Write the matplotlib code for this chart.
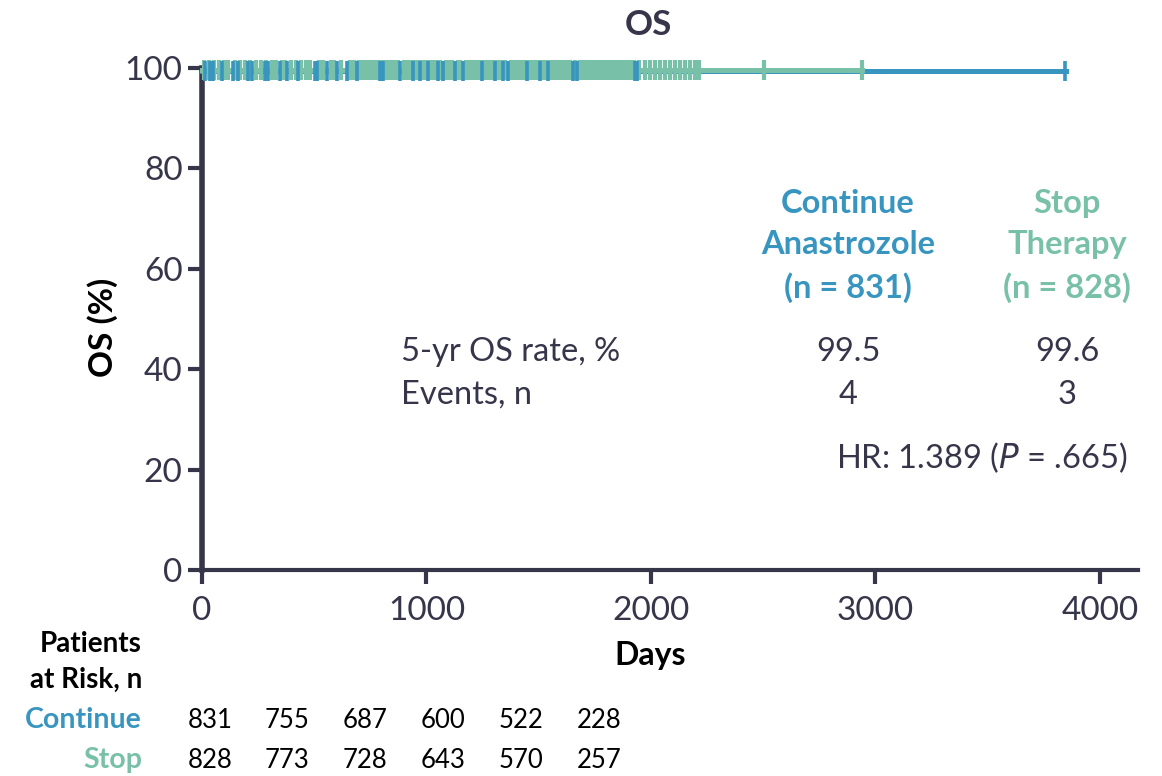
import matplotlib.pyplot as plt

plt.rcParams['font.family'] = ['Lato', 'DejaVu Sans']

# Colours
blue = '#3795c0'
green = '#78c1a8'
dark = '#36354a'

# KM curves (flat)
cont_t = [0, 3850]
cont_s = [99.5, 99.5]
stop_t = [0, 2940]
stop_s = [99.55, 99.55]

# Censor marks (days)
cont_cens = [13, 36, 49, 89, 138, 160, 205, 223, 281, 294, 347, 379, 428, 503,
             512, 557, 601, 646, 690, 793, 806, 882, 940, 971, 1007, 1051, 1073,
             1127, 1162, 1247, 1305, 1341, 1363, 1448, 1505, 1541, 1652, 1670,
             1929, 1937, 3845]
stop_cens = [10, 30, 55, 75, 100, 115, 145, 170, 190, 215, 240, 262, 285, 310,
             330, 355, 370, 395, 420, 440, 465, 480, 520, 540, 575, 590, 620,
             660, 675, 700, 715, 730, 745, 760, 778, 795, 812, 828, 845, 860,
             875, 900, 915, 930, 945, 955, 970, 985, 995, 1010, 1020, 1035,
             1048, 1062, 1085, 1100, 1115, 1140, 1150, 1175, 1190, 1205, 1220,
             1235, 1250, 1262, 1280, 1295, 1310, 1320, 1335, 1352, 1375, 1390,
             1405, 1420, 1435, 1450, 1465, 1480, 1495, 1510, 1520, 1535, 1550,
             1565, 1580, 1595, 1610, 1625, 1640, 1660, 1685, 1700, 1715, 1730,
             1745, 1760, 1775, 1790, 1805, 1820, 1835, 1850, 1865, 1880, 1895,
             1910, 1925, 1945, 1973, 1995, 2018, 2040, 2062, 2084, 2107, 2129,
             2151, 2174, 2196, 2214, 2503, 2940]

# Patients at risk
risk_cont = [831, 755, 687, 600, 522, 228]
risk_stop = [828, 773, 728, 643, 570, 257]

fig = plt.figure(figsize=(11.62, 7.76), dpi=100)
ax = fig.add_axes([202 / 1162, 1 - 570 / 776, 936 / 1162, 502 / 776])

ax.step(cont_t, cont_s, where='post', color=blue, lw=3.6, clip_on=False, zorder=3)
ax.step(stop_t, stop_s, where='post', color=green, lw=3.6, clip_on=False, zorder=4)
ax.plot(stop_cens, [stop_s[0]] * len(stop_cens), ls='none', marker='|',
        ms=15, mew=3, color=green, clip_on=False, zorder=5)
ax.plot(cont_cens, [cont_s[0]] * len(cont_cens), ls='none', marker='|',
        ms=15, mew=2.6, color=blue, clip_on=False, zorder=6)

ax.set_xlim(0, 4170)
ax.set_ylim(0, 100)
ax.set_xticks([0, 1000, 2000, 3000, 4000])
ax.set_yticks([0, 20, 40, 60, 80, 100])
ax.spines['top'].set_visible(False)
ax.spines['right'].set_visible(False)
ax.spines['left'].set_linewidth(4)
ax.spines['bottom'].set_linewidth(3)
ax.spines['left'].set_color(dark)
ax.spines['bottom'].set_color(dark)
ax.tick_params(axis='y', length=10, width=3, color=dark, labelsize=24,
               labelcolor=dark, pad=4)
ax.tick_params(axis='x', length=10, width=3, color=dark, labelsize=24,
               labelcolor=dark, pad=9)

fig.text(103 / 1162, 1 - 327 / 776, 'OS (%)', rotation=90, ha='center',
         va='center', fontsize=24, fontweight='bold', color='black')
fig.text(648 / 1162, 1 - 25 / 776, 'OS', ha='center', va='center',
         fontsize=25, fontweight='bold', color=dark)
fig.text(650 / 1162, 1 - 655 / 776, 'Days', ha='center', va='center',
         fontsize=23, fontweight='bold', color='black')

# Annotation block
fs = 23.5
fig.text(848 / 1162, 1 - 246 / 776, 'Continue\nAnastrozole\n(n = 831)',
         ha='center', va='center', fontsize=fs, fontweight='bold', color=blue,
         linespacing=1.5)
fig.text(1067 / 1162, 1 - 246 / 776, 'Stop\nTherapy\n(n = 828)',
         ha='center', va='center', fontsize=fs, fontweight='bold', color=green,
         linespacing=1.5)
fig.text(401 / 1162, 1 - 352 / 776, '5-yr OS rate, %', ha='left', va='center',
         fontsize=fs, color=dark)
fig.text(401 / 1162, 1 - 395 / 776, 'Events, n', ha='left', va='center',
         fontsize=fs, color=dark)
fig.text(848 / 1162, 1 - 352 / 776, '99.5', ha='center', va='center', fontsize=fs, color=dark)
fig.text(1067 / 1162, 1 - 352 / 776, '99.6', ha='center', va='center', fontsize=fs, color=dark)
fig.text(848 / 1162, 1 - 395 / 776, '4', ha='center', va='center', fontsize=fs, color=dark)
fig.text(1067 / 1162, 1 - 395 / 776, '3', ha='center', va='center', fontsize=fs, color=dark)
fig.text(1127 / 1162, 1 - 458 / 776, 'HR: 1.389 ($\\it{P}$ = .665)', ha='right',
         va='center', fontsize=fs, color=dark)

# Patients at risk table
fig.text(142 / 1162, 1 - 662 / 776, 'Patients\nat Risk, n', ha='right', va='center',
         fontsize=20, fontweight='bold', color='black', linespacing=1.5)
fig.text(142 / 1162, 1 - 720 / 776, 'Continue', ha='right', va='center',
         fontsize=20.5, fontweight='bold', color=blue)
fig.text(142 / 1162, 1 - 760 / 776, 'Stop', ha='right', va='center',
         fontsize=20.5, fontweight='bold', color=green)
col_x = [210, 287, 365, 443, 521, 599]
for cx, a, b in zip(col_x, risk_cont, risk_stop):
    fig.text(cx / 1162, 1 - 720 / 776, str(a), ha='center', va='center',
             fontsize=18.5, color='black')
    fig.text(cx / 1162, 1 - 760 / 776, str(b), ha='center', va='center',
             fontsize=18.5, color='black')

fig.savefig('out.png', dpi=100)
